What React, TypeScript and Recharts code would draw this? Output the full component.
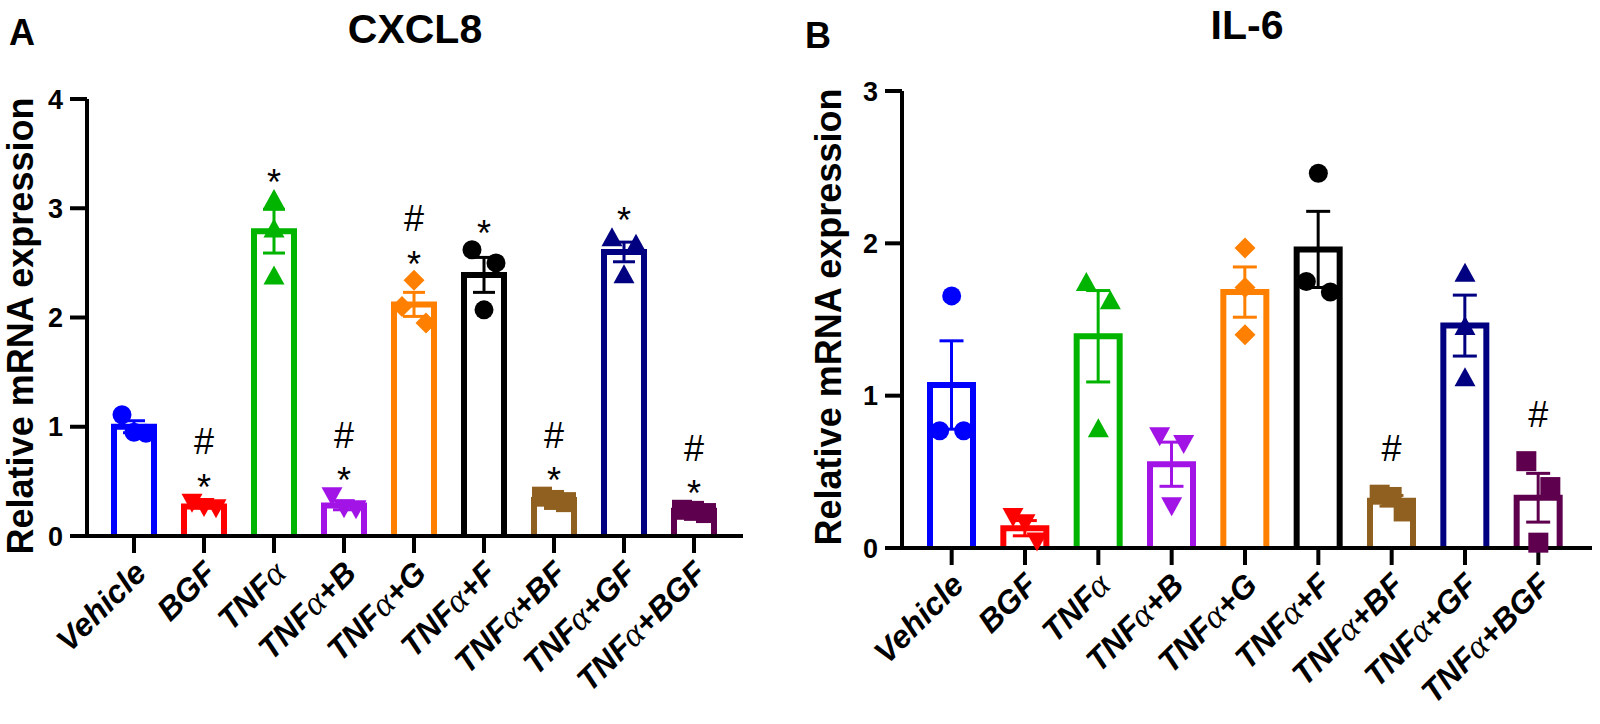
import React from 'react'
import { ComposedChart, Bar, Scatter, XAxis, YAxis } from 'recharts'

const categories = [
  'Vehicle',
  'BGF',
  'TNFα',
  'TNFα+B',
  'TNFα+G',
  'TNFα+F',
  'TNFα+BF',
  'TNFα+GF',
  'TNFα+BGF',
]

// CXCL8 (panel A)
const cxcl8Means = [1.0, 0.27, 2.79, 0.28, 2.12, 2.39, 0.33, 2.6, 0.23]
const cxcl8Sems = [0.055, 0.015, 0.2, 0.04, 0.11, 0.16, 0.015, 0.09, 0.01]
const cxcl8Points = [
  [1.11, 0.95, 0.94],
  [0.3, 0.26, 0.25],
  [3.09, 2.82, 2.39],
  [0.36, 0.25, 0.24],
  [2.34, 2.1, 1.95],
  [2.62, 2.5, 2.07],
  [0.36, 0.33, 0.31],
  [2.74, 2.68, 2.4],
  [0.24, 0.23, 0.21],
]
const cxcl8Marks = ['', '*#', '*', '*#', '*#', '*', '*#', '*', '*#']
const cxcl8Ticks = [0, 1, 2, 3, 4]

// IL-6 (panel B)
const il6Means = [1.07, 0.13, 1.39, 0.55, 1.68, 1.96, 0.31, 1.46, 0.33]
const il6Sems = [0.29, 0.05, 0.3, 0.145, 0.165, 0.25, 0.035, 0.2, 0.16]
const il6Points = [
  [1.655, 0.77, 0.77],
  [0.2, 0.16, 0.04],
  [1.75, 1.63, 0.79],
  [0.73, 0.68, 0.27],
  [1.97, 1.71, 1.4],
  [2.46, 1.75, 1.68],
  [0.35, 0.335, 0.24],
  [1.81, 1.46, 1.125],
  [0.57, 0.4, 0.035],
]
const il6Marks = ['', '', '', '', '', '', '#', '', '#']
const il6Ticks = [0, 1, 2, 3]

const colors = [
  '#0000ff',
  '#ff0000',
  '#00b400',
  '#a214e6',
  '#ff8000',
  '#000000',
  '#906020',
  '#000080',
  '#5e004e',
]
const shapes = ['circle', 'down', 'up', 'down', 'diamond', 'circle', 'square', 'up', 'square']

const SANS = "'Liberation Sans', Arial, Helvetica, sans-serif"
const SERIF = "'Liberation Serif', 'Times New Roman', serif"

// spread overlapping replicates sideways, like the prism scatter layout
const spread = (vals: number[], pxPerUnit: number) => {
  const order = vals.map((_, i) => i).sort((a, b) => vals[b] - vals[a])
  const off = vals.map(() => 0)
  const flush = (g: number[]) => {
    if (g.length === 2) {
      off[g[0]] = -12
      off[g[1]] = 12
    } else if (g.length >= 3) {
      g.forEach((k, j) => (off[k] = -12 + (24 * j) / (g.length - 1)))
    }
  }
  let group = [order[0]]
  for (let i = 1; i < order.length; i++) {
    if ((vals[order[i - 1]] - vals[order[i]]) * pxPerUnit < 26) group.push(order[i])
    else {
      flush(group)
      group = [order[i]]
    }
  }
  flush(group)
  return off
}

const buildRows = (means: number[], sems: number[], points: number[][], marks: string[], pxPerUnit: number) =>
  categories.map((name, i) => ({
    name,
    idx: i,
    mean: means[i],
    sem: sems[i],
    r0: points[i][0],
    r1: points[i][1],
    r2: points[i][2],
    reps: points[i],
    marks: marks[i],
    jit: spread(points[i], pxPerUnit),
  }))

const Marker = ({ cx, cy, shape, color }: any) => {
  if (shape === 'circle') return <circle cx={cx} cy={cy} r={9.5} fill={color} />
  if (shape === 'square') return <rect x={cx - 10} y={cy - 10} width={20} height={20} fill={color} />
  if (shape === 'diamond')
    return <polygon points={`${cx},${cy - 10.5} ${cx + 10.5},${cy} ${cx},${cy + 10.5} ${cx - 10.5},${cy}`} fill={color} />
  if (shape === 'up')
    return <polygon points={`${cx - 10.5},${cy + 9.5} ${cx + 10.5},${cy + 9.5} ${cx},${cy - 9.5}`} fill={color} />
  return <polygon points={`${cx - 10.5},${cy - 9.5} ${cx + 10.5},${cy - 9.5} ${cx},${cy + 9.5}`} fill={color} />
}

const makeBarShape = (capWidth: number) => (props: any) => {
  const { x, y, width, height, payload } = props
  const color = colors[payload.idx]
  const k = height / payload.mean
  const cx = x + width / 2
  const eTop = y - payload.sem * k
  const eBot = y + payload.sem * k
  const half = capWidth / 2
  const maxVal = Math.max(...payload.reps, payload.mean + payload.sem)
  const topEdge = y - (maxVal - payload.mean) * k - 10
  const hasStar = payload.marks.includes('*')
  const hasHash = payload.marks.includes('#')
  const starC = topEdge - 14
  const hashC = hasStar ? starC - 38 : topEdge - 37
  return (
    <g>
      <path
        d={`M${x},${y + height} L${x},${y} L${x + width},${y} L${x + width},${y + height}`}
        fill='#fff'
        stroke={color}
        strokeWidth={6}
        strokeLinejoin='miter'
      />
      <g stroke={color} strokeWidth={3}>
        <line x1={cx} x2={cx} y1={eTop} y2={eBot} />
        <line x1={cx - half} x2={cx + half} y1={eTop} y2={eTop} />
        <line x1={cx - half} x2={cx + half} y1={eBot} y2={eBot} />
      </g>
      {hasStar && (
        <text x={cx} y={starC + 20.5} textAnchor='middle' fontFamily={SANS} fontSize={36} fill='#000'>
          *
        </text>
      )}
      {hasHash && (
        <text x={cx} y={hashC + 13} textAnchor='middle' fontFamily={SANS} fontSize={36} fill='#000'>
          #
        </text>
      )}
    </g>
  )
}

const pointShape = (rep: number) => (props: any) => {
  const { cx, cy, payload } = props
  if (cx == null || cy == null) return <g />
  return <Marker cx={cx + payload.jit[rep]} cy={cy} shape={shapes[payload.idx]} color={colors[payload.idx]} />
}

const CategoryTick = (props: any) => {
  const { x, y, payload } = props
  const parts = String(payload.value).split('α')
  return (
    <text
      transform={`translate(${x + 14},${y + 22}) rotate(-45)`}
      textAnchor='end'
      fontFamily={SANS}
      fontWeight='bold'
      fontStyle='italic'
      fontSize={32}
      fill='#000'
    >
      {parts[0]}
      {parts.length > 1 && (
        <tspan fontFamily={SERIF} fontWeight='normal' fontSize={35}>
          α
        </tspan>
      )}
      {parts.length > 1 && parts[1] ? <tspan>{parts[1]}</tspan> : null}
    </text>
  )
}

type PanelProps = {
  rows: any[]
  yMax: number
  yTicks: number[]
  width: number
  height: number
  top: number
  right: number
  yAxisWidth: number
  xAxisHeight: number
  padLeft: number
  padRight: number
  barSize: number
  capWidth: number
}

const Panel = ({ rows, yMax, yTicks, width, height, top, right, yAxisWidth, xAxisHeight, padLeft, padRight, barSize, capWidth }: PanelProps) => (
  <ComposedChart width={width} height={height} data={rows} margin={{ top, right, bottom: 0, left: 0 }}>
    <XAxis
      dataKey='name'
      type='category'
      interval={0}
      height={xAxisHeight}
      tickSize={17}
      tickMargin={0}
      padding={{ left: padLeft, right: padRight }}
      axisLine={{ stroke: '#000', strokeWidth: 4 }}
      tickLine={{ stroke: '#000', strokeWidth: 4 }}
      tick={<CategoryTick />}
    />
    <YAxis
      type='number'
      domain={[0, yMax]}
      ticks={yTicks}
      interval={0}
      width={yAxisWidth}
      tickSize={17}
      tickMargin={7}
      axisLine={{ stroke: '#000', strokeWidth: 4 }}
      tickLine={{ stroke: '#000', strokeWidth: 4 }}
      tick={{ fontSize: 27, fontWeight: 700, fill: '#000', fontFamily: SANS }}
    />
    <Bar dataKey='mean' barSize={barSize} shape={makeBarShape(capWidth)} isAnimationActive={false} />
    <Scatter dataKey='r0' shape={pointShape(0)} isAnimationActive={false} />
    <Scatter dataKey='r1' shape={pointShape(1)} isAnimationActive={false} />
    <Scatter dataKey='r2' shape={pointShape(2)} isAnimationActive={false} />
  </ComposedChart>
)

const rowsA = buildRows(cxcl8Means, cxcl8Sems, cxcl8Points, cxcl8Marks, 437 / 4)
const rowsB = buildRows(il6Means, il6Sems, il6Points, il6Marks, 457 / 3)

export default function App() {
  return (
    <div style={{ position: 'absolute', left: 0, top: 0, width: 1600, height: 724, background: '#fff', overflow: 'hidden' }}>
      <div style={{ position: 'absolute', left: 0, top: 0 }}>
        <Panel
          rows={rowsA}
          yMax={4}
          yTicks={cxcl8Ticks}
          width={760}
          height={724}
          top={99}
          right={17}
          yAxisWidth={87}
          xAxisHeight={188}
          padLeft={12}
          padRight={14}
          barSize={40}
          capWidth={22}
        />
      </div>
      <div style={{ position: 'absolute', left: 790, top: 0 }}>
        <Panel
          rows={rowsB}
          yMax={3}
          yTicks={il6Ticks}
          width={810}
          height={724}
          top={91}
          right={8}
          yAxisWidth={112}
          xAxisHeight={176}
          padLeft={13}
          padRight={17}
          barSize={43}
          capWidth={24}
        />
      </div>
      <svg width={1600} height={724} style={{ position: 'absolute', left: 0, top: 0, pointerEvents: 'none' }}>
        <g fontFamily={SANS} fontWeight='bold' fill='#000'>
          <text x={9} y={45} fontSize={36}>A</text>
          <text x={415} y={43} fontSize={41} textAnchor='middle'>CXCL8</text>
          <text x={805} y={48} fontSize={36}>B</text>
          <text x={1247} y={39} fontSize={41} textAnchor='middle'>IL-6</text>
          <text transform='translate(33,326) rotate(-90)' fontSize={36} textAnchor='middle'>
            Relative mRNA expression
          </text>
          <text transform='translate(841,317) rotate(-90)' fontSize={36} textAnchor='middle'>
            Relative mRNA expression
          </text>
        </g>
      </svg>
    </div>
  )
}
